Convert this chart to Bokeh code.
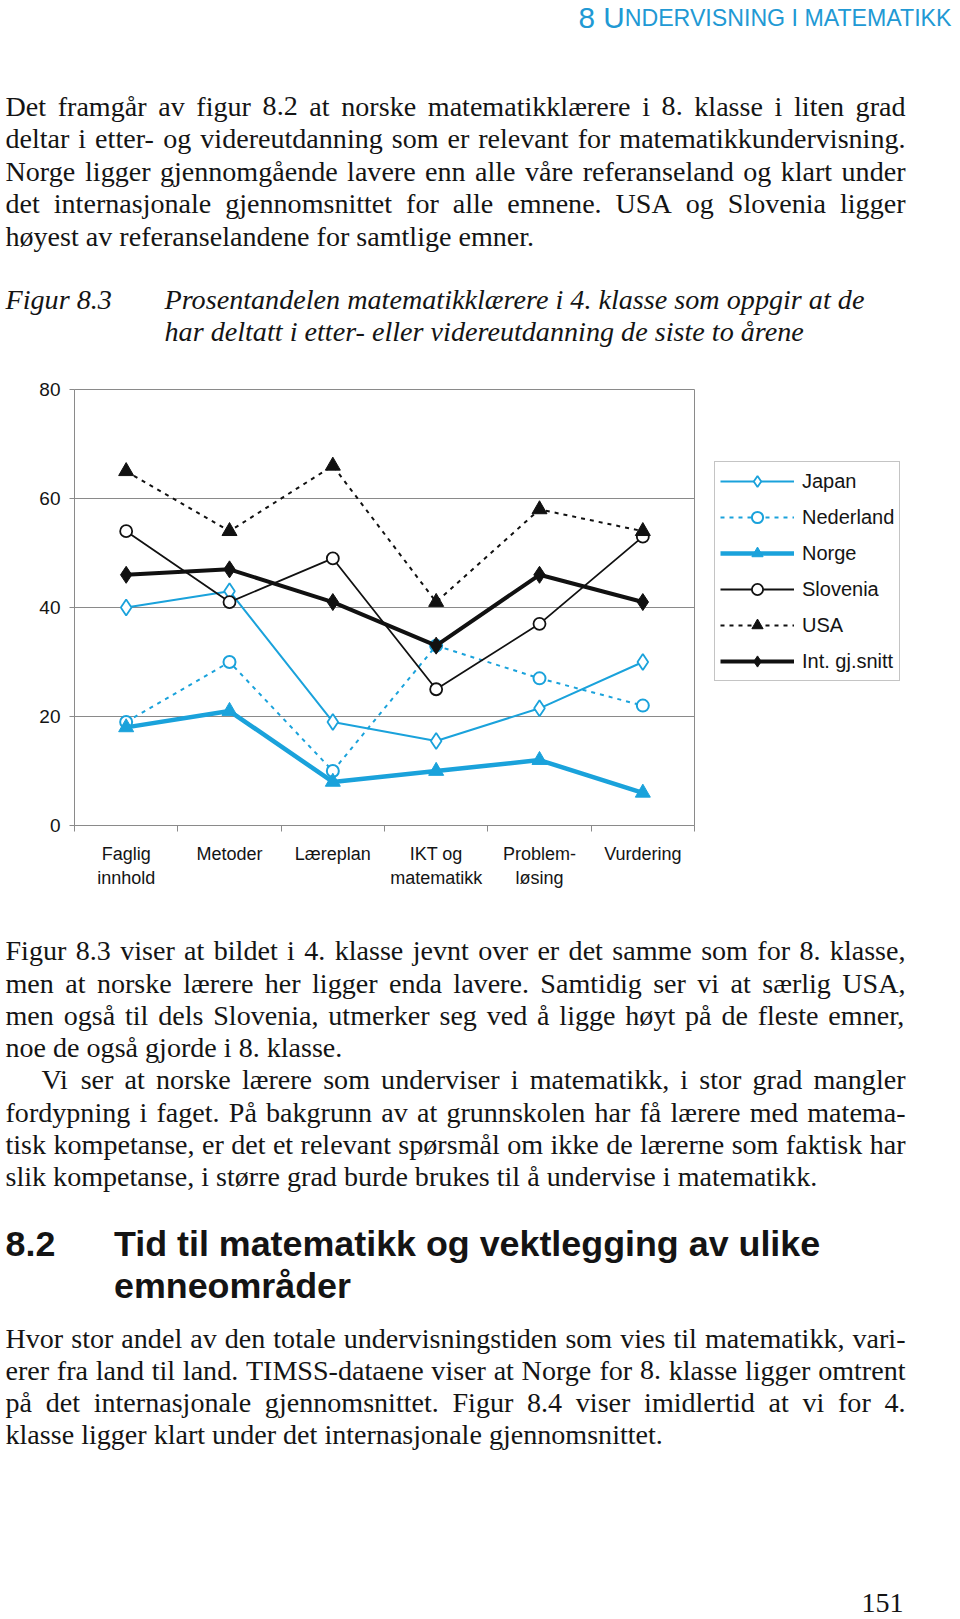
import os, glob, struct
from bokeh.plotting import figure
from bokeh.models import Range1d, FixedTicker, Legend, LegendItem, ColumnDataSource
from bokeh.layouts import column
from bokeh.embed import file_html
from bokeh.resources import INLINE
from bokeh.core.properties import value

# ------------------------------------------------------------------ data
categories = ["Faglig\ninnhold", "Metoder", "Læreplan", "IKT og\nmatematikk", "Problem-\nløsing", "Vurdering"]
japan = [40, 43, 19, 15.5, 21.5, 30]
nederland = [19, 30, 10, 33, 27, 22]
norge = [18, 21, 8, 10, 12, 6]
slovenia = [54, 41, 49, 25, 37, 53]
usa = [65, 54, 66, 41, 58, 54]
int_snitt = [46, 47, 41, 33, 46, 41]
series_names = ["Japan", "Nederland", "Norge", "Slovenia", "USA", "Int. gj.snitt"]
y_ticks = [0, 20, 40, 60, 80]

header_big = "8 U"
header_small = "NDERVISNING I MATEMATIKK"
para1 = [
    "Det framgår av figur 8.2 at norske matematikklærere i 8. klasse i liten grad",
    "deltar i etter- og videreutdanning som er relevant for matematikkundervisning.",
    "Norge ligger gjennomgående lavere enn alle våre referanseland og klart under",
    "det internasjonale gjennomsnittet for alle emnene. USA og Slovenia ligger",
    "høyest av referanselandene for samtlige emner.",
]
caption_label = "Figur 8.3"
caption = [
    "Prosentandelen matematikklærere i 4. klasse som oppgir at de",
    "har deltatt i etter- eller videreutdanning de siste to årene",
]
para2 = [
    "Figur 8.3 viser at bildet i 4. klasse jevnt over er det samme som for 8. klasse,",
    "men at norske lærere her ligger enda lavere. Samtidig ser vi at særlig USA,",
    "men også til dels Slovenia, utmerker seg ved å ligge høyt på de fleste emner,",
    "noe de også gjorde i 8. klasse.",
    "Vi ser at norske lærere som underviser i matematikk, i stor grad mangler",
    "fordypning i faget. På bakgrunn av at grunnskolen har få lærere med matema-",
    "tisk kompetanse, er det et relevant spørsmål om ikke de lærerne som faktisk har",
    "slik kompetanse, i større grad burde brukes til å undervise i matematikk.",
]
heading_num = "8.2"
heading = ["Tid til matematikk og vektlegging av ulike", "emneområder"]
para3 = [
    "Hvor stor andel av den totale undervisningstiden som vies til matematikk, vari-",
    "erer fra land til land. TIMSS-dataene viser at Norge for 8. klasse ligger omtrent",
    "på det internasjonale gjennomsnittet. Figur 8.4 viser imidlertid at vi for 4.",
    "klasse ligger klart under det internasjonale gjennomsnittet.",
]
page_number = "151"

# ------------------------------------------------------------------ font metrics (for justified text)
def find_font(fname):
    roots = ["/usr/share/fonts", "/usr/local/share/fonts", "/usr/lib/fonts",
             os.path.expanduser("~/.fonts"), os.path.expanduser("~/.local/share/fonts")]
    for r in roots:
        if os.path.isdir(r):
            hits = glob.glob(os.path.join(r, "**", fname), recursive=True)
            if hits:
                return hits[0]
    return None


class Metrics:
    def __init__(self, path):
        self.ok = False
        if not path:
            return
        try:
            d = open(path, "rb").read()
            u16 = lambda o: struct.unpack(">H", d[o:o + 2])[0]
            u32 = lambda o: struct.unpack(">I", d[o:o + 4])[0]
            tab = {}
            for i in range(u16(4)):
                r = 12 + 16 * i
                tab[d[r:r + 4].decode("latin-1")] = u32(r + 8)
            self.upem = u16(tab["head"] + 18)
            nh = u16(tab["hhea"] + 34)
            hm = tab["hmtx"]
            self.adv = [u16(hm + 4 * i) for i in range(nh)]
            cm = tab["cmap"]
            sub = None
            for i in range(u16(cm + 2)):
                pid, eid = u16(cm + 4 + 8 * i), u16(cm + 6 + 8 * i)
                off = cm + u32(cm + 8 + 8 * i)
                if u16(off) == 4:
                    if (pid, eid) == (3, 1):
                        sub = off
                        break
                    if sub is None:
                        sub = off
            segx2 = u16(sub + 6)
            seg = segx2 // 2
            e0 = sub + 14
            s0 = e0 + segx2 + 2
            dl0 = s0 + segx2
            ro0 = dl0 + segx2
            self.cmap = {}
            for i in range(seg):
                end, start, delta, ro = u16(e0 + 2 * i), u16(s0 + 2 * i), u16(dl0 + 2 * i), u16(ro0 + 2 * i)
                if start == 0xFFFF or end - start > 5000:
                    continue
                for c in range(start, end + 1):
                    if ro == 0:
                        g = (c + delta) & 0xFFFF
                    else:
                        g = u16(ro0 + 2 * i + ro + 2 * (c - start))
                        if g:
                            g = (g + delta) & 0xFFFF
                    self.cmap[c] = g
            self.ok = True
        except Exception:
            self.ok = False

    def width(self, s, size):
        if not self.ok:
            return len(s) * 0.47 * size
        tot = 0
        for ch in s:
            g = self.cmap.get(ord(ch), 0)
            tot += self.adv[min(g, len(self.adv) - 1)]
        return tot * size / self.upem


serif = Metrics(find_font("LiberationSerif-Regular.ttf"))
serif_it = Metrics(find_font("LiberationSerif-Italic.ttf"))
sans = Metrics(find_font("LiberationSans-Regular.ttf"))
sans_b = Metrics(find_font("LiberationSans-Bold.ttf"))


def fit_size(m, samples, default):
    if not m.ok:
        return default
    unit = sum(m.width(s, 1.0) for s, w in samples)
    return sum(w for s, w in samples) / unit


BODY = fit_size(serif, [(para1[4], 532), (para2[3], 335), (para2[7], 813), (para3[3], 656)], 28)
CAP = fit_size(serif_it, [(caption[0], 703), (caption[1], 642)], 28)
HEAD = fit_size(sans_b, [(heading[0], 707)], 35)
if sans.ok:
    HDR = 377 / (sans.width(header_big, 1) + 0.78 * sans.width(header_small, 1))
else:
    HDR = 28
HDR_S = 0.78 * HDR

TEXT = "#141414"
CYAN = "#1aa2db"
HDR_COL = "#2199d4"
GRAY = "#8a8a8a"
SERIF = "Liberation Serif"
SANS = "Liberation Sans"

PAGE_W = 960
TOP_H = 370
CHART_H = 535
BOT_TOP, BOT_H = TOP_H + CHART_H, 1619 - TOP_H - CHART_H
LEFT = 5          # page x of text left edge
RIGHT = 905       # page x of justified right edge


class Batch:
    def __init__(self, shift):
        self.shift = shift
        self.groups = {}

    def add(self, px, py, s, font, size, style, color, align="left"):
        key = (font, round(size, 2), style, color, align)
        g = self.groups.setdefault(key, dict(x=[], y=[], t=[]))
        g["x"].append(px)
        g["y"].append(py - self.shift)
        g["t"].append(s)

    def draw(self, p):
        for (font, size, style, color, align), g in self.groups.items():
            p.text(x="x", y="y", text="t", source=ColumnDataSource(g),
                   text_font=value(font), text_font_size=value("%.2fpx" % size),
                   text_font_style=value(style), text_color=color,
                   text_align=value(align), text_baseline=value("alphabetic"))


def line_out(b, m, s, x0, x1, py, size, justify, font, style="normal", color=TEXT):
    words = s.split(" ")
    if not (justify and m.ok and len(words) > 1):
        b.add(x0, py, s, font, size, style, color)
        return
    ws = [m.width(w, size) for w in words]
    gap = (x1 - x0 - sum(ws)) / (len(words) - 1)
    x = x0
    for w, wd in zip(words, ws):
        b.add(x, py, w, font, size, style, color)
        x += wd + gap


def text_fig(h):
    p = figure(width=PAGE_W, height=h, x_range=Range1d(0, PAGE_W), y_range=Range1d(h, 0),
               output_backend="svg", toolbar_location=None, x_axis_type=None, y_axis_type=None,
               min_border=0, outline_line_color=None, frame_align=False)
    p.grid.visible = False
    return p


# ------------------------------------------------------------------ top text block
top = text_fig(TOP_H)
bt = Batch(8)
if sans.ok:
    wb = sans.width(header_big, HDR)
    ws = sans.width(header_small, HDR_S)
    hx = 955 - wb - ws
    bt.add(hx, 25, header_big, SANS, HDR, "normal", HDR_COL)
    bt.add(hx + wb, 25, header_small, SANS, HDR_S, "normal", HDR_COL)
else:
    bt.add(955, 25, header_big + header_small, SANS, HDR_S, "normal", HDR_COL, "right")

b_off = 0.27 * BODY
for i, s in enumerate(para1):
    cy = 106.3 + 32.5 * i
    line_out(bt, serif, s, LEFT, RIGHT, cy + b_off, BODY, i < len(para1) - 1, SERIF)

c_off = 0.27 * CAP
bt.add(LEFT, 299.4 + c_off, caption_label, SERIF, CAP, "italic", TEXT)
for i, s in enumerate(caption):
    bt.add(164, 299.4 + 32 * i + c_off, s, SERIF, CAP, "italic", TEXT)
bt.draw(top)

# ------------------------------------------------------------------ chart
n = len(categories)
centers = [i + 0.5 for i in range(n)]
bounds = [i for i in range(n + 1)]

chart = figure(frame_width=620, frame_height=436, x_range=Range1d(0, n), y_range=Range1d(0, 80),
               min_border_left=74, min_border_right=266, min_border_top=19, min_border_bottom=80,
               output_backend="svg", toolbar_location=None, outline_line_color=GRAY,
               outline_line_width=1, frame_align=False)
chart.xgrid.visible = False
chart.ygrid.ticker = FixedTicker(ticks=y_ticks)
chart.ygrid.grid_line_color = GRAY
chart.ygrid.grid_line_width = 1

xa = chart.xaxis[0]
xa.ticker = FixedTicker(ticks=centers, minor_ticks=bounds)
xa.major_label_overrides = {c: lab for c, lab in zip(centers, categories)}
xa.major_tick_line_color = None
xa.major_tick_out = 0
xa.major_tick_in = 0
xa.minor_tick_out = 6
xa.minor_tick_in = 0
xa.minor_tick_line_color = GRAY
xa.axis_line_color = GRAY
xa.major_label_standoff = 12
xa.major_label_text_font = SANS
xa.major_label_text_font_size = "18px"
xa.major_label_text_color = TEXT
xa.major_label_text_line_height = 1.22

ya = chart.yaxis[0]
ya.ticker = FixedTicker(ticks=y_ticks, minor_ticks=[])
ya.major_tick_out = 5
ya.major_tick_in = 0
ya.major_tick_line_color = GRAY
ya.minor_tick_line_color = None
ya.axis_line_color = GRAY
ya.major_label_standoff = 9
ya.major_label_text_font = SANS
ya.major_label_text_font_size = "19px"
ya.major_label_text_color = TEXT

BLACK = "#111111"
styles = [
    dict(color=CYAN, lw=2, dash="solid", marker="diamond", size=16, fill="white", mlw=1.8),
    dict(color=CYAN, lw=2, dash="4 5", marker="circle", size=12, fill="white", mlw=2),
    dict(color=CYAN, lw=4.5, dash="solid", marker="triangle", size=15, fill=CYAN, mlw=1),
    dict(color=BLACK, lw=1.8, dash="solid", marker="circle", size=12, fill="white", mlw=1.8),
    dict(color=BLACK, lw=2, dash="4 5", marker="triangle", size=15, fill=BLACK, mlw=1),
    dict(color=BLACK, lw=4, dash="solid", marker="diamond", size=17, fill=BLACK, mlw=1),
]
all_series = [japan, nederland, norge, slovenia, usa, int_snitt]
items = []
for name, vals, st in zip(series_names, all_series, styles):
    src = ColumnDataSource(dict(x=centers, y=vals))
    lr = chart.line("x", "y", source=src, line_color=st["color"], line_width=st["lw"],
                    line_dash=st["dash"], line_join="round")
    sr = chart.scatter("x", "y", source=src, marker=st["marker"], size=st["size"],
                       fill_color=st["fill"], line_color=st["color"], line_width=st["mlw"])
    items.append(LegendItem(label=name, renderers=[lr, sr]))

legend = Legend(items=items, location=(20, 144), glyph_width=74, glyph_height=28, label_height=28,
                spacing=8, padding=5, margin=0, label_standoff=8,
                label_text_font=SANS, label_text_font_size="20px", label_text_color=TEXT,
                border_line_color=GRAY, border_line_width=1, background_fill_color="white",
                background_fill_alpha=1)
chart.add_layout(legend, "right")

# ------------------------------------------------------------------ bottom text block
bot = text_fig(BOT_H)
bb = Batch(BOT_TOP + 8)
justify2 = [True, True, True, False, True, True, True, False]
for i, s in enumerate(para2):
    cy = 950.7 + 32.3 * i
    x0 = 41 if i == 4 else LEFT
    line_out(bb, serif, s, x0, RIGHT, cy + b_off, BODY, justify2[i], SERIF)

h_off = 0.33 * HEAD - 3
bb.add(LEFT, 1243 + h_off, heading_num, SANS, HEAD, "bold", TEXT)
for i, s in enumerate(heading):
    bb.add(113.5, 1243 + 42 * i + h_off, s, SANS, HEAD, "bold", TEXT)

for i, s in enumerate(para3):
    cy = 1338 + 32.3 * i
    line_out(bb, serif, s, LEFT, RIGHT, cy + b_off, BODY, i < len(para3) - 1, SERIF)

bb.add(903, 1603 + b_off, page_number, SERIF, BODY, "normal", TEXT, "right")
bb.draw(bot)

layout = column(top, chart, bot, spacing=0)
open("out.html", "w").write(file_html(layout, INLINE))
